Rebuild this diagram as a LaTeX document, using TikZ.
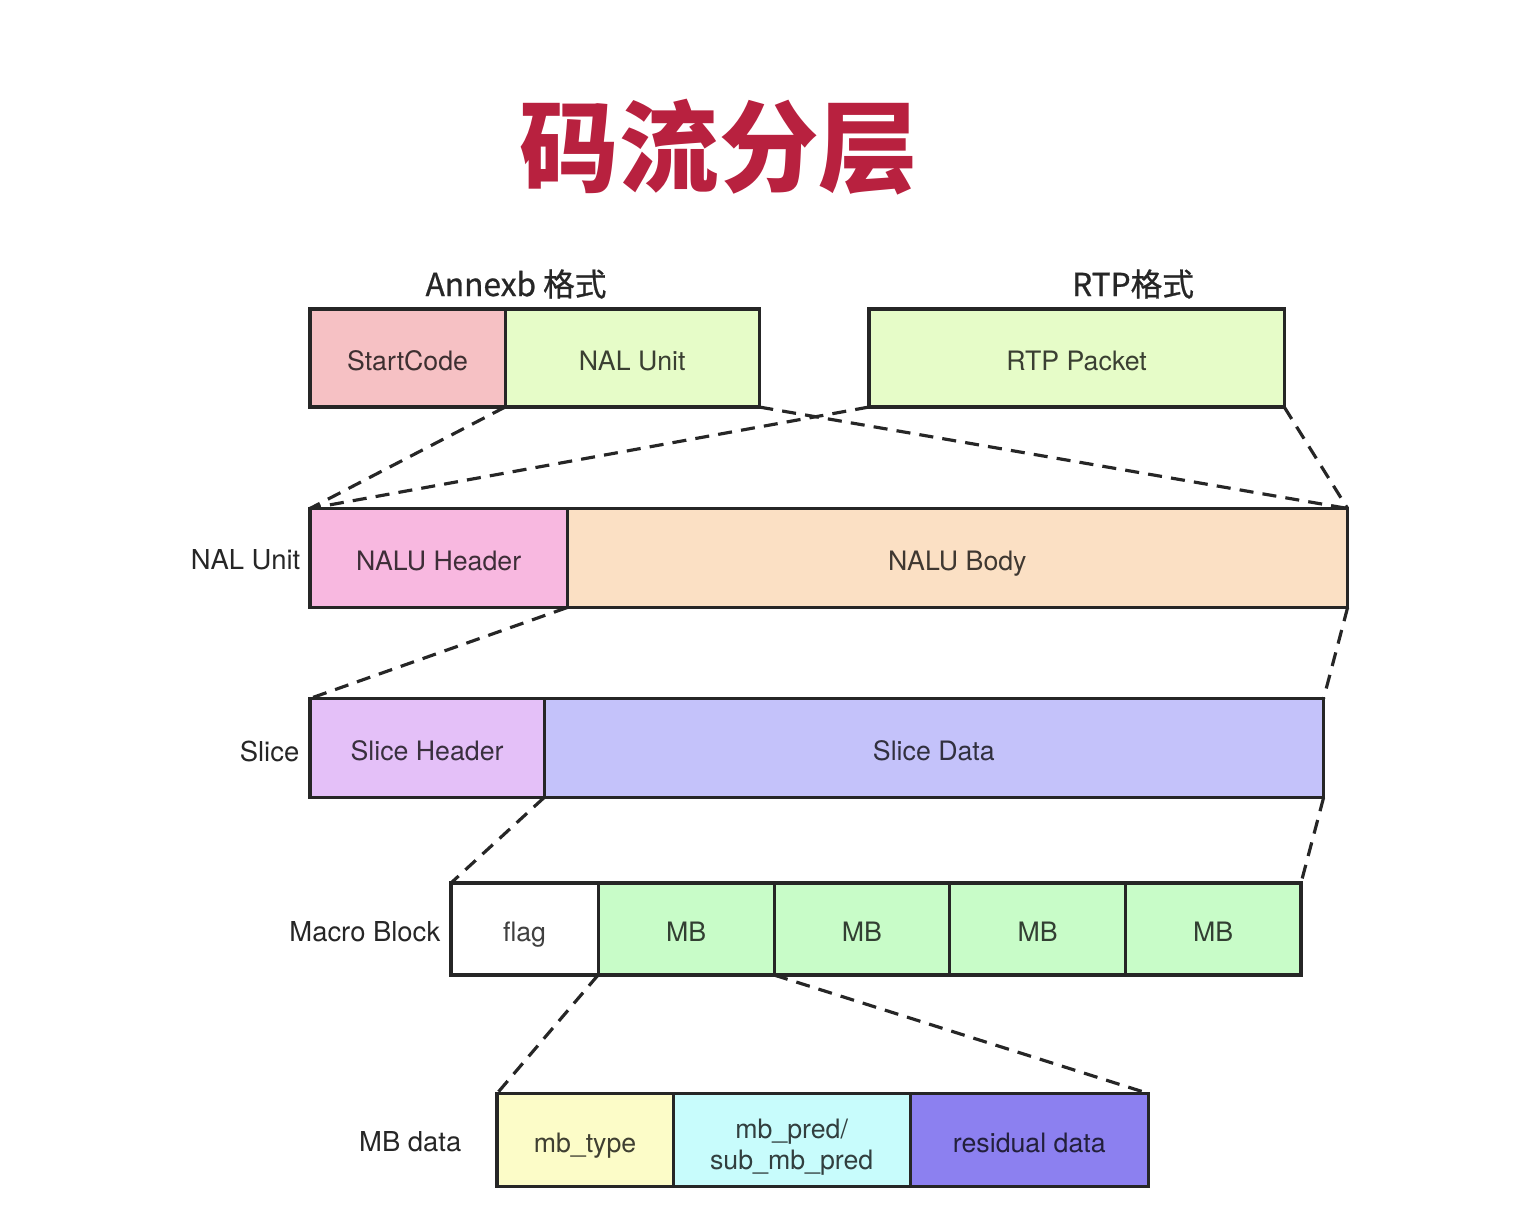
\documentclass[tikz,border=0pt]{standalone}
\usepackage{fontspec}
\setmainfont{TeX Gyre Heros}
\newfontfamily\cjk{Noto Sans CJK SC}
\newfontfamily\cjkmed[FakeBold=0.8]{Noto Sans CJK SC}
\usepackage{tikz}
\usetikzlibrary{positioning}

\definecolor{titlered}{HTML}{B8213F}
\definecolor{scpink}{HTML}{F6C1C4}
\definecolor{nalgreen}{HTML}{E6FCC8}
\definecolor{hdrpink}{HTML}{F8B8E0}
\definecolor{bodypeach}{HTML}{FBE0C4}
\definecolor{slhdr}{HTML}{E4C0F8}
\definecolor{sldata}{HTML}{C4C2FA}
\definecolor{mbgreen}{HTML}{C8FCC8}
\definecolor{mbyellow}{HTML}{FCFCC8}
\definecolor{mbcyan}{HTML}{C8FCFC}
\definecolor{resviolet}{HTML}{8C80F0}

\tikzset{
  part/.style={draw=black!85, line width=0.9pt, fill=#1, text=#1!25!black,
    inner sep=0pt, outer sep=0pt, font=\fontsize{7.6}{8.8}\selectfont,
    text height=8pt, text depth=0.8pt, align=center, anchor=west},
  rowlabel/.style={anchor=east, inner sep=0pt, font=\fontsize{7.8}{9.5}\selectfont,
    text=black!85},
  fmtlabel/.style={font=\fontsize{9}{11}\selectfont\cjkmed, text=black!85},
  zoomline/.style={dashed, dash pattern=on 4pt off 2.6pt, line width=0.9pt, black!85},
}

\begin{document}
\begin{tikzpicture}[x=0.01cm, y=-0.01cm]
  \useasboundingbox (0,0) rectangle (1516,1230);

  % === Titre ===
  \node[font=\fontsize{28.3}{30}\selectfont\cjk\bfseries, text=titlered] (title) at (719,147) {码流分层};

  % === Formats ===
  \node[fmtlabel] (annexb) at (516,284) {Annexb 格式};
  \node[fmtlabel] (rtpfmt) at (1133,284) {RTP格式};

  \node[part=scpink, minimum width=1.95cm, minimum height=0.98cm] (sc) at (310,358) {StartCode};
  \node[part=nalgreen, minimum width=2.54cm, minimum height=0.98cm, right=0pt of sc] (nal) {NAL Unit};
  \node[part=nalgreen, minimum width=4.15cm, minimum height=0.98cm] (rtp) at (869,358) {RTP Packet};

  % === NAL Unit ===
  \node[part=hdrpink, minimum width=2.57cm, minimum height=0.99cm] (naluhdr) at (310,558) {NALU Header};
  \node[part=bodypeach, minimum width=7.80cm, minimum height=0.99cm, right=0pt of naluhdr] (nalubody) {NALU Body};
  \node[rowlabel] (lnal) at (301,560) {NAL Unit};

  % === Slice ===
  \node[part=slhdr, minimum width=2.34cm, minimum height=0.99cm] (slhdr) at (310,748) {Slice Header};
  \node[part=sldata, minimum width=7.79cm, minimum height=0.99cm, right=0pt of slhdr] (sldata) {Slice Data};
  \node[rowlabel] (lslice) at (300,751) {Slice};

  % === Macro Block ===
  \node[part=white, minimum width=1.47cm, minimum height=0.92cm] (flag) at (451,929) {flag};
  \node[part=mbgreen, minimum width=1.76cm, minimum height=0.92cm, right=0pt of flag] (mb1) {MB};
  \node[part=mbgreen, minimum width=1.755cm, minimum height=0.92cm, right=0pt of mb1] (mb2) {MB};
  \node[part=mbgreen, minimum width=1.755cm, minimum height=0.92cm, right=0pt of mb2] (mb3) {MB};
  \node[part=mbgreen, minimum width=1.755cm, minimum height=0.92cm, right=0pt of mb3] (mb4) {MB};
  \node[rowlabel] (lmb) at (441,932) {Macro Block};

  % === MB data ===
  \node[part=mbyellow, minimum width=1.76cm, minimum height=0.93cm] (mbtype) at (497,1140) {mb\_type};
  \node[part=mbcyan, minimum width=2.37cm, minimum height=0.93cm, text height=16.5pt, text depth=0pt,
    right=0pt of mbtype] (mbpred) {mb\_pred/\\sub\_mb\_pred};
  \node[part=resviolet, minimum width=2.38cm, minimum height=0.93cm, right=0pt of mbpred] (resid) {residual data};
  \node[rowlabel] (lmbdata) at (462,1142) {MB data};

  % === Lignes de zoom ===
  \draw[zoomline] (sc.south east) -- (naluhdr.north west);
  \draw[zoomline] (nal.south east) -- (nalubody.north east);
  \draw[zoomline] (rtp.south west) -- (naluhdr.north west);
  \draw[zoomline] (rtp.south east) -- (nalubody.north east);

  \draw[zoomline] (naluhdr.south east) -- (slhdr.north west);
  \draw[zoomline] (nalubody.south east) -- (sldata.north east);

  \draw[zoomline] (slhdr.south east) -- (flag.north west);
  \draw[zoomline] (sldata.south east) -- (mb4.north east);

  \draw[zoomline] (mb1.south west) -- (mbtype.north west);
  \draw[zoomline] (mb1.south east) -- (resid.north east);

\end{tikzpicture}
\end{document}
